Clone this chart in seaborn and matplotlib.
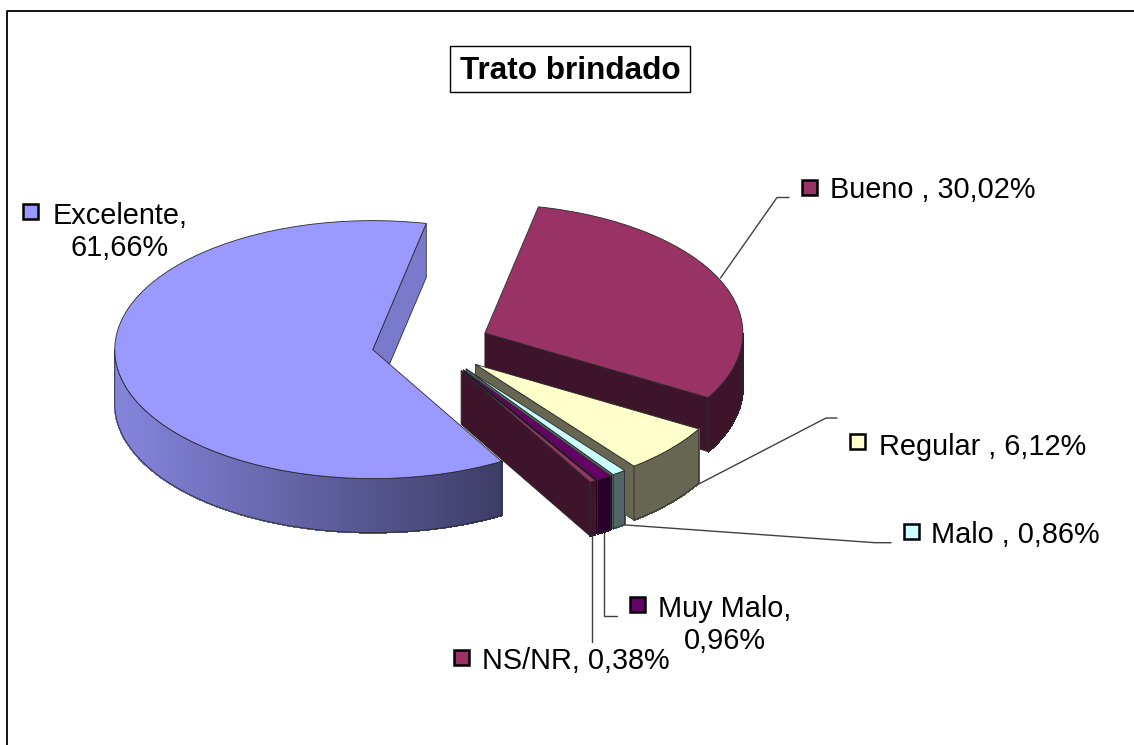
#!/usr/bin/env python3
"""Trato brindado - torta 3D separada, estilo Excel."""

import numpy as np
import matplotlib.pyplot as plt
from matplotlib.patches import Polygon, Rectangle
import seaborn as sns

plt.switch_backend('Agg')
sns.set_style("white")
plt.rcParams['font.family'] = ['Liberation Sans', 'DejaVu Sans']

# --- DATOS ---
categories = ["Excelente", "Bueno ", "Regular ", "Malo ", "Muy Malo", "NS/NR"]
values = [61.66, 30.02, 6.12, 0.86, 0.96, 0.38]
colors = ["#9999ff", "#993366", "#ffffcc", "#ccffff", "#660066", "#993366"]
title = "Trato brindado"

# --- GEOMETRIA (pixeles de la imagen) ---
W, H = 1134, 745
CX, CY = 431, 345.0
RX, RY = 258, 129
DEPTH = 54 / RY
EXPLODE = 59 / RX
FONT = 20.8

# orden de dibujo: de atras hacia adelante
draw_order = [1, 2, 3, 4, 5, 0]
cut_shade = [0.8, 0.4, 0.4, 0.4, 0.4, 0.4]
EDGE = "#2b2b2b"


def px(x, y):
    """Pixel de la imagen a coordenadas de datos de la torta."""
    return (x - CX) / RX, (CY - y) / RY


def shade(color, k):
    return tuple(c * k for c in color)


def wall_shade(angle, idx):
    # solo la porcion grande tiene degradado visible
    if idx != 0:
        return 0.4
    t = (np.cos(np.radians(angle)) + 1) / 1.5
    return 0.87 - 0.47 * min(t, 1)


def draw_sides(ax, wedge, color, idx, z):
    x0, y0 = wedge.center
    t1, t2 = wedge.theta1, wedge.theta2

    # cara de corte
    if np.cos(np.radians(t1)) > 0:
        ex = x0 + np.cos(np.radians(t1))
        ey = y0 + np.sin(np.radians(t1))
        ax.add_patch(Polygon([(x0, y0), (ex, ey), (ex, ey - DEPTH), (x0, y0 - DEPTH)],
                             closed=True, facecolor=shade(color, cut_shade[idx]),
                             edgecolor=EDGE, lw=0.6, zorder=z))

    # pared exterior: la parte con seno negativo
    angles = np.linspace(t1, t2, 721)
    angles = angles[np.sin(np.radians(angles)) <= 0]
    if len(angles) < 2:
        return
    xs = x0 + np.cos(np.radians(angles))
    ys = y0 + np.sin(np.radians(angles))
    for i in range(len(angles) - 1):
        c = shade(color, wall_shade(angles[i], idx))
        ax.add_patch(Polygon([(xs[i], ys[i]), (xs[i + 1], ys[i + 1]),
                              (xs[i + 1], ys[i + 1] - DEPTH), (xs[i], ys[i] - DEPTH)],
                             closed=True, facecolor=c, edgecolor=c, lw=0.8,
                             antialiased=False, zorder=z + 0.1))
    outline_x = np.r_[xs, xs[::-1], xs[0]]
    outline_y = np.r_[ys, ys[::-1] - DEPTH, ys[0]]
    ax.plot(outline_x, outline_y, color=EDGE, lw=0.6, zorder=z + 0.2)


def leader(ax, points):
    pts = [px(*p) for p in points]
    ax.plot([p[0] for p in pts], [p[1] for p in pts], color="#404040", lw=1.0, zorder=1)


def label(ax, idx, marker_xy, text_xy, wrap=False):
    mx, my = marker_xy
    x0, y0 = px(mx, my + 15)
    x1, y1 = px(mx + 15, my)
    ax.add_patch(Rectangle((x0, y0), x1 - x0, y1 - y0, facecolor=palette[idx],
                           edgecolor="black", lw=1.8, zorder=20))
    pct = f"{values[idx]:.2f}%".replace(".", ",")
    sep = ",\n" if wrap else ", "
    tx, ty = px(*text_xy)
    ax.text(tx, ty, categories[idx] + sep + pct, fontsize=FONT, color="black",
            ha="center" if wrap else "left", va="center", linespacing=1.22, zorder=20)


palette = sns.color_palette(colors)

fig, ax = plt.subplots(figsize=(W / 100, H / 100), dpi=100)
fig.subplots_adjust(left=0, right=1, top=1, bottom=0)

wedges, _ = ax.pie(values, colors=palette, explode=[EXPLODE] * len(values), radius=1,
                   startangle=-60, counterclock=False,
                   wedgeprops={"edgecolor": EDGE, "linewidth": 0.6})
ax.set_aspect("auto")
ax.set_xlim(px(0, 0)[0], px(W, 0)[0])
ax.set_ylim(px(0, H)[1], px(0, 0)[1])
ax.set_axis_off()

# lineas guia por debajo de la torta
leader(ax, [(720.5, 278), (777, 197.5), (789, 197.5)])
leader(ax, [(668, 500), (826, 418), (837, 418)])
leader(ax, [(612, 524), (875, 542.7), (891, 542.7)])
leader(ax, [(603.5, 530), (603.5, 616), (617, 616)])
leader(ax, [(592, 533), (592, 642)])

for order, idx in enumerate(draw_order):
    z = 2 + order
    draw_sides(ax, wedges[idx], palette[idx], idx, z)
    wedges[idx].set_zorder(z + 0.3)

label(ax, 0, (23, 204), (120, 232), wrap=True)
label(ax, 1, (802, 180), (830, 190))
label(ax, 2, (850, 434), (879, 447))
label(ax, 3, (904, 524), (931, 535))
label(ax, 4, (630, 597), (725, 625), wrap=True)
label(ax, 5, (454, 650), (482, 661))

# titulo con recuadro
x0, y0 = px(449.5, 92)
x1, y1 = px(690, 46)
ax.add_patch(Rectangle((x0, y0), x1 - x0, y1 - y0, facecolor="white", edgecolor="black",
                       lw=1.0, zorder=20))
tx, ty = px(570.5, 71)
ax.text(tx, ty, title, fontsize=22.7, fontweight="bold", color="black",
        ha="center", va="center", zorder=21)

# marco del grafico: solo izquierda y arriba quedan dentro de la imagen
frame = [px(6.5, H), px(6.5, 11), px(W, 11)]
ax.plot([p[0] for p in frame], [p[1] for p in frame], color="black", lw=1.3, zorder=20)

fig.savefig("out.png", dpi=100)
plt.close(fig)
